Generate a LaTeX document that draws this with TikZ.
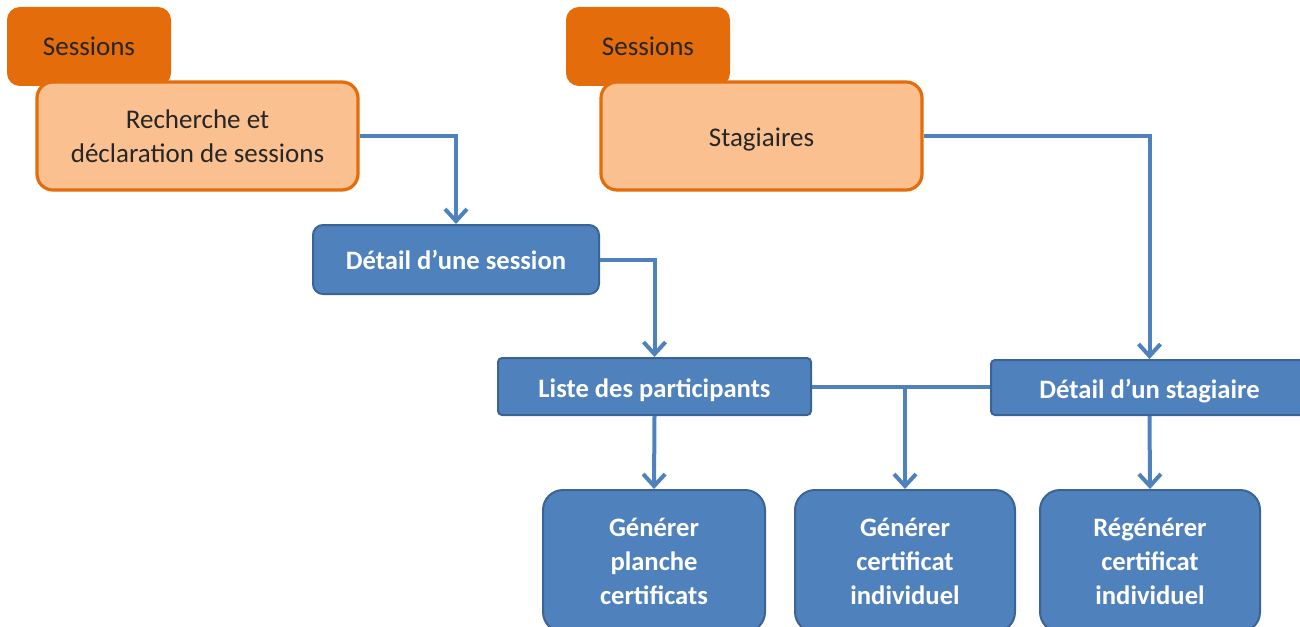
\documentclass[tikz,border=0pt]{standalone}
\usepackage{fontspec}
\setmainfont{Carlito}
\usetikzlibrary{arrows.meta}
\definecolor{dorange}{HTML}{E46C0A}
\definecolor{lorange}{HTML}{FAC090}
\definecolor{mblue}{HTML}{4F81BD}
\definecolor{bborder}{HTML}{3A6495}
\definecolor{dtext}{HTML}{262626}
\tikzset{
  tab/.style={draw=dorange, fill=dorange, line width=1pt, rounded corners=6pt, text=dtext, font=\fontsize{13.5}{17}\selectfont, minimum width=81pt, minimum height=38.5pt, inner sep=0pt},
  obox/.style={draw=dorange, fill=lorange, line width=1.6pt, rounded corners=8pt, text=dtext, font=\fontsize{13.5}{17}\selectfont, align=center, minimum width=160.5pt, minimum height=54pt, inner sep=0pt},
  bbox/.style={draw=bborder, fill=mblue, line width=1pt, text=white, font=\bfseries\fontsize{13.3}{17}\selectfont, align=center, inner sep=0pt},
  lowtext/.style={align=none, text height=11pt, text depth=0pt},
  conn/.style={draw=mblue, line width=2pt},
  arr/.style={conn, -{Straight Barb[length=6pt,width=11pt]}}
}
\begin{document}
\begin{tikzpicture}[x=0.5pt,y=-0.5pt]
\useasboundingbox (0,0) rectangle (1300,626);
% orange boxes
\node[tab] (tab1) at (89,46.5) {Sessions};
\node[obox] (rech) at (197.5,136) {Recherche et\\déclaration de sessions};
\node[tab] (tab2) at (648,46.5) {Sessions};
\node[obox, lowtext] (stag) at (761.5,136) {Stagiaires};
% blue boxes
\node[bbox, rounded corners=5pt, minimum width=143pt, minimum height=34.5pt] (dsess) at (456,259.5) {Détail d’une session};
\node[bbox, lowtext, rounded corners=2pt, minimum width=156.5pt, minimum height=28.5pt] (liste) at (654.5,386.5) {Liste des participants};
\node[bbox, lowtext, rounded corners=2pt, minimum width=158.5pt, minimum height=27.5pt] (dstag) at (1149.5,387.5) {Détail d’un stagiaire};
\node[bbox, rounded corners=10pt, minimum width=111pt, minimum height=71pt] (gpc) at (654,561) {Générer\\planche\\certificats};
\node[bbox, rounded corners=10pt, minimum width=110pt, minimum height=71pt] (gci) at (905,561) {Générer\\certificat\\individuel};
\node[bbox, rounded corners=10pt, minimum width=110pt, minimum height=71pt] (rci) at (1150,561) {Régénérer\\certificat\\individuel};
% connectors
\draw[arr] (rech.east) -| (dsess.north);
\draw[arr] (dsess.east) -| (liste.north);
\draw[arr] (stag.east) -| (dstag.north);
\coordinate (j) at (905,387);
\draw[conn] (liste.east |- j) -- (dstag.west |- j);
\draw[arr] (j) -- (gci.north);
\draw[arr] (liste.south) -- (gpc.north);
\draw[arr] (dstag.south) -- (rci.north);
\end{tikzpicture}
\end{document}
